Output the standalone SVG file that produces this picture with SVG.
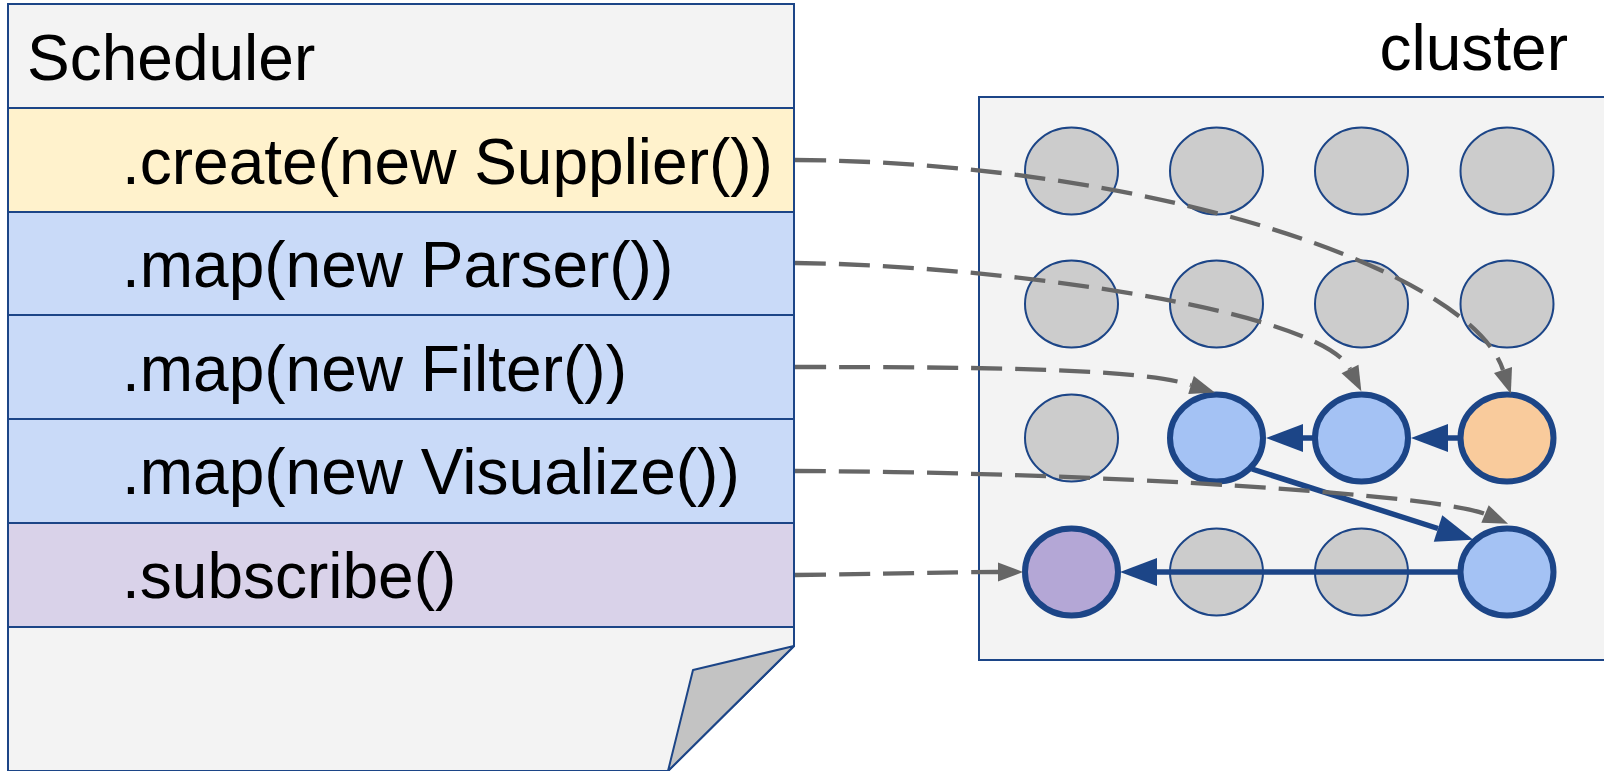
<svg xmlns="http://www.w3.org/2000/svg" width="1604" height="771" viewBox="0 0 1604 771">
  <style>
    .txt { font-family: "Liberation Sans", Arial, sans-serif; font-size: 64px; fill: #000000; }
    .row { stroke: #1c4587; stroke-width: 2; }
    .thin { fill: #cccccc; stroke: #1c4587; stroke-width: 2; }
    .thick { stroke: #1c4587; stroke-width: 6; }
    .dash { fill: none; stroke: #666666; stroke-width: 4.3; stroke-dasharray: 31 13; marker-end: url(#grayArrow); }
    .solid { fill: none; stroke: #1c4587; stroke-width: 5.5; marker-end: url(#blueArrow); }
  </style>
  <defs>
    <marker id="grayArrow" markerUnits="userSpaceOnUse" markerWidth="25" markerHeight="19" refX="0" refY="9.5" orient="auto" overflow="visible">
      <path d="M0,0 L25,9.5 L0,19 z" fill="#666666"/>
    </marker>
    <marker id="blueArrow" markerUnits="userSpaceOnUse" markerWidth="37" markerHeight="28" refX="0" refY="14" orient="auto" overflow="visible">
      <path d="M0,0 L37,14 L0,28 z" fill="#1c4587"/>
    </marker>
  </defs>
  <rect x="0" y="0" width="1604" height="771" fill="#ffffff"/>

  <g id="scheduler">
    <rect class="row" x="8" y="4" width="786" height="104" fill="#f3f3f3"/>
    <text class="txt" x="27" y="80">Scheduler</text>
    <polygon class="row" points="8,627 794,627 794,646 668,771 8,771" fill="#f3f3f3"/>
    <polygon points="794,646 693,670 668,771" fill="#c3c3c3" stroke="#1c4587" stroke-width="2" stroke-linejoin="round"/>
  </g>
  <g id="row-create">
    <rect class="row" x="8" y="108" width="786" height="104" fill="#fff2cc"/>
    <text class="txt" x="122" y="183.5">.create(new Supplier())</text>
  </g>
  <g id="row-parser">
    <rect class="row" x="8" y="212" width="786" height="103" fill="#c9daf8"/>
    <text class="txt" x="122" y="287">.map(new Parser())</text>
  </g>
  <g id="row-filter">
    <rect class="row" x="8" y="315" width="786" height="104" fill="#c9daf8"/>
    <text class="txt" x="122" y="390.5">.map(new Filter())</text>
  </g>
  <g id="row-visualize">
    <rect class="row" x="8" y="419" width="786" height="104" fill="#c9daf8"/>
    <text class="txt" x="122" y="494">.map(new Visualize())</text>
  </g>
  <g id="row-subscribe">
    <rect class="row" x="8" y="523" width="786" height="104" fill="#d9d2e9"/>
    <text class="txt" x="122" y="597.5">.subscribe()</text>
  </g>

  <g id="cluster">
    <rect x="979" y="97" width="640" height="563" fill="#f3f3f3" stroke="#1c4587" stroke-width="2"/>
    <text class="txt" x="1568" y="70" text-anchor="end">cluster</text>
  </g>

  <g id="nodes">
    <g id="n-1-1"><ellipse class="thin" cx="1071.5" cy="171" rx="46.5" ry="43.5"/></g>
    <g id="n-1-2"><ellipse class="thin" cx="1216.5" cy="171" rx="46.5" ry="43.5"/></g>
    <g id="n-1-3"><ellipse class="thin" cx="1361.5" cy="171" rx="46.5" ry="43.5"/></g>
    <g id="n-1-4"><ellipse class="thin" cx="1507" cy="171" rx="46.5" ry="43.5"/></g>
    <g id="n-2-1"><ellipse class="thin" cx="1071.5" cy="304" rx="46.5" ry="43.5"/></g>
    <g id="n-2-2"><ellipse class="thin" cx="1216.5" cy="304" rx="46.5" ry="43.5"/></g>
    <g id="n-2-3"><ellipse class="thin" cx="1361.5" cy="304" rx="46.5" ry="43.5"/></g>
    <g id="n-2-4"><ellipse class="thin" cx="1507" cy="304" rx="46.5" ry="43.5"/></g>
    <g id="n-3-1"><ellipse class="thin" cx="1071.5" cy="438" rx="46.5" ry="43.5"/></g>
    <g id="n-3-2"><ellipse class="thick" cx="1216.5" cy="438" rx="46.5" ry="43.5" fill="#a4c2f4"/></g>
    <g id="n-3-3"><ellipse class="thick" cx="1361.5" cy="438" rx="46.5" ry="43.5" fill="#a4c2f4"/></g>
    <g id="n-3-4"><ellipse class="thick" cx="1507" cy="438" rx="46.5" ry="43.5" fill="#f9cb9c"/></g>
    <g id="n-4-1"><ellipse class="thick" cx="1071.5" cy="572" rx="46.5" ry="43.5" fill="#b4a7d6"/></g>
    <g id="n-4-2"><ellipse class="thin" cx="1216.5" cy="572" rx="46.5" ry="43.5"/></g>
    <g id="n-4-3"><ellipse class="thin" cx="1361.5" cy="572" rx="46.5" ry="43.5"/></g>
    <g id="n-4-4"><ellipse class="thick" cx="1507" cy="572" rx="46.5" ry="43.5" fill="#a4c2f4"/></g>
  </g>

  <g id="connectors">
    <path class="solid" d="M1461,572 L1157,572"/>
    <path class="solid" d="M1461,438 L1448,438"/>
    <path class="solid" d="M1316,438 L1303,438"/>
    <path class="solid" d="M1252,469 L1438,528.5"/>
    <path class="dash" d="M795,160 C1150,162 1470,270 1503,370"/>
    <path class="dash" d="M795,263 C1000,265 1320,310 1350,369"/>
    <path class="dash" d="M795,367 C1000,367 1140,369 1191,385"/>
    <path class="dash" d="M795,471 C1100,472 1440,495 1485,514"/>
    <path class="dash" d="M795,575 C880,574 950,572 998,572"/>
  </g>
</svg>
